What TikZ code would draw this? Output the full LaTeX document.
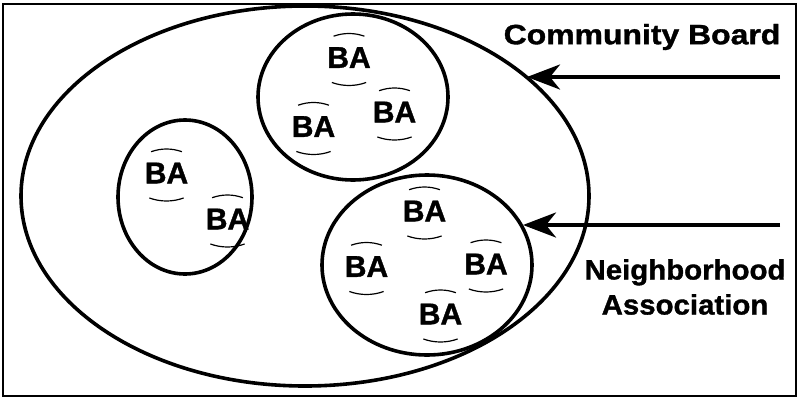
\documentclass[tikz,border=0pt]{standalone}
\usepackage{fontspec}
\setmainfont{Liberation Sans}[BoldFeatures={FakeBold=1.2}]
\usetikzlibrary{shapes.geometric,arrows.meta}

% a "BA" label with a faint shallow arc above and below it
\newcommand\balabel[3]{%
  \node[ba] (#1) at (#2,#3) {BA};
  \draw[arcline] ([shift={(70:45pt)},yshift=-21pt]#1.center) arc[start angle=70,end angle=110,radius=45pt];
  \draw[arcline] ([shift={(250:50pt)},yshift=22pt]#1.center) arc[start angle=250,end angle=290,radius=50pt];
}

\begin{document}
\begin{tikzpicture}[x=1pt,y=-1pt,
  frame/.style={line width=2.4pt},
  group/.style={draw, ellipse, line width=3.6pt, inner sep=0pt, outer sep=0pt},
  ba/.style={font=\fontsize{30}{30}\selectfont\bfseries, inner sep=0pt},
  arcline/.style={line width=1.2pt},
  caption/.style={font=\fontsize{28}{35}\selectfont\bfseries, align=center, inner sep=0pt},
  pointer/.style={line width=4pt, -{Stealth[length=33pt,width=25pt,inset=10pt]}}]

\useasboundingbox (0,0) rectangle (800,399);
\draw[frame] (3,4) rectangle (796,396);

% community board and its neighborhood associations
\node[group, minimum width=568pt, minimum height=380pt] (board) at (305,196) {};
\node[group, minimum width=190pt, minimum height=166pt] (naTop) at (353,97) {};
\node[group, minimum width=134pt, minimum height=154pt] (naLeft) at (185,197) {};
\node[group, minimum width=210pt, minimum height=180pt] (naRight) at (427,265) {};

% block associations
\balabel{ba1}{349}{57.5}
\balabel{ba2}{313.5}{126.5}
\balabel{ba3}{394.5}{112}
\balabel{ba4}{166.5}{173}
\balabel{ba5}{227.5}{219}
\balabel{ba6}{424.5}{211}
\balabel{ba7}{366.5}{266.5}
\balabel{ba8}{486}{264}
\balabel{ba9}{440.5}{314}

% captions and pointers
\node[caption, xscale=1.14] (cbText) at (642,37) {Community Board};
\node[caption, xscale=1.05] (naText) at (685,287) {Neighborhood\\Association};

\coordinate (cbTail) at (780,77);
\coordinate (cbTip) at (527,77);
\coordinate (naTail) at (780,225);
\coordinate (naTip) at (523,225);
\draw[pointer] (cbTail) -- (cbTip);
\draw[pointer] (naTail) -- (naTip);
\end{tikzpicture}
\end{document}
